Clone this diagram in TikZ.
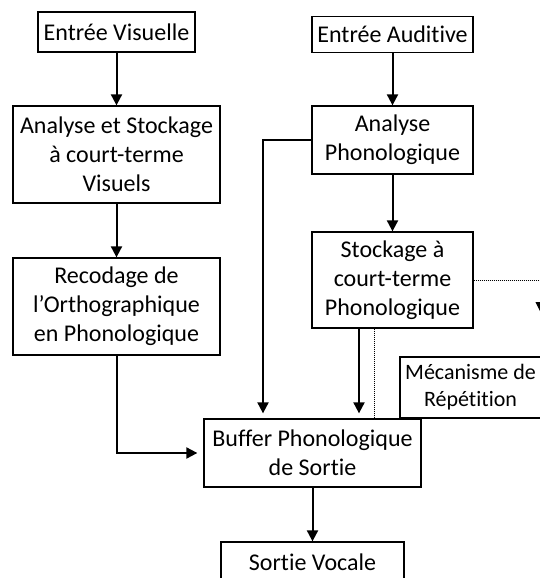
\documentclass[tikz,border=0pt]{standalone}
\usepackage{fontspec}
\setmainfont{Carlito}[Ligatures=NoCommon]
\usetikzlibrary{positioning,arrows.meta}
\tikzset{
  box/.style={draw, line width=1.3pt, inner sep=0pt, align=center,
    font=\fontsize{24}{29}\selectfont},
  arr/.style={line width=2pt, -{Triangle[length=11pt,width=11pt]}},
  dots/.style={line width=1pt, densely dotted}
}
\begin{document}
\begin{tikzpicture}[on grid]
    \useasboundingbox (0,0) rectangle (539pt,-578pt);
    % voie visuelle
    \node [box, minimum width=157pt, minimum height=40pt] (ev) at (116.5pt,-32pt) {Entrée Visuelle};
    \node [box, minimum width=207pt, minimum height=97pt] (asv) [below=122.5pt of ev] {Analyse et Stockage\\à court-terme\\Visuels};
    \node [box, minimum width=207pt, minimum height=97pt] (rec) [below=152pt of asv] {Recodage de\\l’Orthographique\\en Phonologique};
    % voie auditive
    \node [box, minimum width=161pt, minimum height=36pt] (ea) at (392.5pt,-34.5pt) {Entrée Auditive};
    \node [box, minimum width=161pt, minimum height=68pt] (ap) [below=105.5pt of ea] {Analyse\\Phonologique};
    \node [box, minimum width=161pt, minimum height=96pt] (sto) [below=140pt of ap] {Stockage à\\court-terme\\Phonologique};
    \node [box, minimum width=141pt, minimum height=61pt, font=\fontsize{22}{27}\selectfont] (mec) [below right=107.5pt and 78pt of sto] {Mécanisme de\\Répétition};
    % sortie
    \node [box, minimum width=217pt, minimum height=68pt] (buf) [below left=173pt and 80pt of sto] {Buffer Phonologique\\de Sortie};
    \node [box, minimum width=183pt, minimum height=40pt] (sv) [below=109pt of buf] {Sortie Vocale};
    \coordinate (boucle) at (560pt,-418pt);
    \coordinate (retour) at (541pt,-313pt);

    \draw [arr] (ev) -- (asv);
    \draw [arr] (asv) -- (rec);
    \draw [arr, shorten >=6pt] (rec) |- (buf);
    \draw [arr] (ea) -- (ap);
    \draw [arr] (ap) -- (sto);
    \draw [arr, shorten >=5pt] (ap.west) -| ([xshift=-49.5pt]buf.north);
    \draw [arr, shorten >=5pt] ([xshift=-33.5pt]sto.south) -- ([xshift=-33.5pt]sto.south |- buf.north);
    \draw [arr] (buf) -- (sv);
    \draw [dots] ([xshift=-18.5pt]sto.south) |- (boucle);
    \draw [dots, -{Triangle[length=11pt,width=11pt]}] (sto.east) -| (retour);
\end{tikzpicture}
\end{document}
